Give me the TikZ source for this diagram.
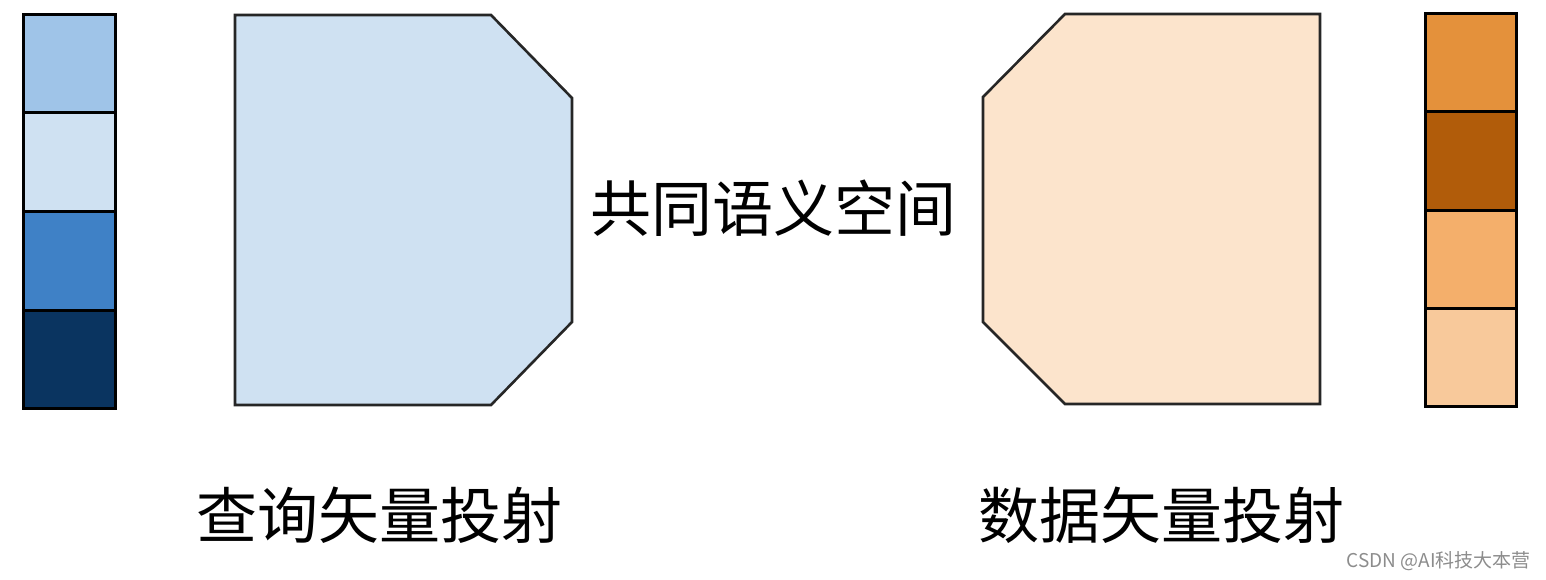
\documentclass[tikz,border=0pt]{standalone}
\usepackage{fontspec}
\newfontfamily\cjk{Noto Sans CJK SC}
\definecolor{b1}{HTML}{9FC4E8}
\definecolor{b2}{HTML}{CFE1F2}
\definecolor{b3}{HTML}{3F81C6}
\definecolor{b4}{HTML}{0A3460}
\definecolor{o1}{HTML}{E4913B}
\definecolor{o2}{HTML}{B15C0A}
\definecolor{o3}{HTML}{F4AF6B}
\definecolor{o4}{HTML}{F8C99B}
\definecolor{pbl}{HTML}{CFE1F2}
\definecolor{por}{HTML}{FCE4CC}
\begin{document}
\begin{tikzpicture}[x=1pt,y=-1pt,
  cell/.style={draw=black,line width=3pt},
  poly/.style={draw=black!85,line width=2.6pt,line join=miter},
  lbl/.style={font=\cjk\fontsize{61}{70}\selectfont,inner sep=0pt}]
\useasboundingbox (0,0) rectangle (1546,580);
% left bar
\path[cell,fill=b1] (23,15) rectangle (115,113);
\path[cell,fill=b2] (23,113) rectangle (115,211);
\path[cell,fill=b3] (23,211) rectangle (115,310);
\path[cell,fill=b4] (23,310) rectangle (115,408);
% right bar
\path[cell,fill=o1] (1425,14) rectangle (1516,112);
\path[cell,fill=o2] (1425,112) rectangle (1516,210);
\path[cell,fill=o3] (1425,210) rectangle (1516,308);
\path[cell,fill=o4] (1425,308) rectangle (1516,406);
% polygons
\path[poly,fill=pbl] (235,15) -- (491,15) -- (572,98) -- (572,322) -- (491,405) -- (235,405) -- cycle;
\path[poly,fill=por] (1065,14) -- (1320,14) -- (1320,404) -- (1065,404) -- (983,322) -- (983,97) -- cycle;
% labels
\node[lbl] (mid) at (773,208) {共同语义空间};
\node[lbl] (ql) at (379,515) {查询矢量投射};
\node[lbl] (dl) at (1161,515) {数据矢量投射};
\node[inner sep=0pt,text=black!45,font=\cjk\fontsize{19}{21}\selectfont,anchor=east] (wm) at (1531,561) {CSDN @AI科技大本营};
\end{tikzpicture}
\end{document}
